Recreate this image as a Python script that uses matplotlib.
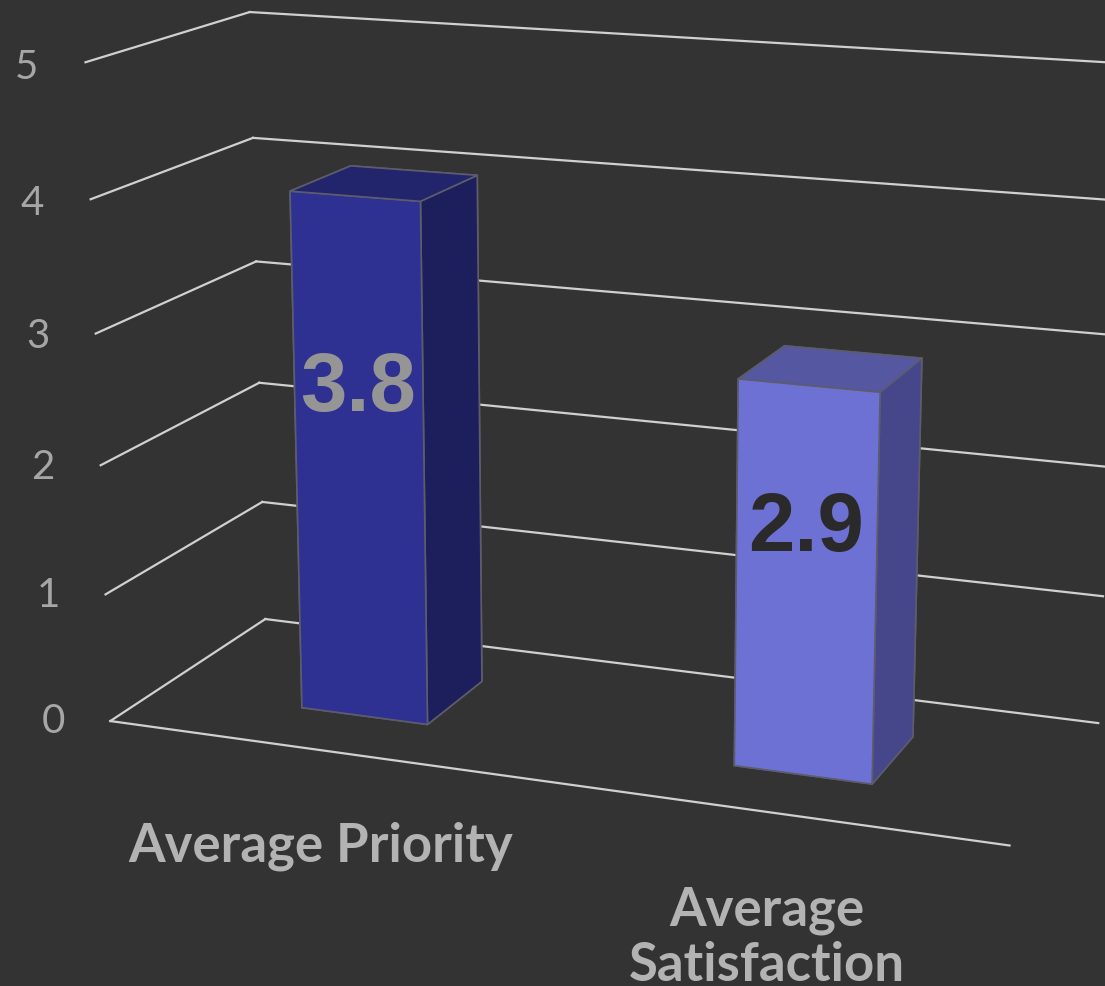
import matplotlib
matplotlib.use('Agg')
import matplotlib.pyplot as plt
import numpy as np

categories = ['Average Priority', 'Average\nSatisfaction']
bar_heights = [4.0, 2.9]
value_labels = ['3.8', '2.9']
z_ticks = [0, 1, 2, 3, 4, 5]
front_colors = ['#2e3192', '#6e71d4']
side_colors = ['#1d1e5c', '#46478a']
top_colors = ['#22246c', '#5557a0']
value_label_colors = ['#959595', '#2a2a2a']

BG = '#333333'
GRID = '#d0d0d0'
TICK = '#a6a6a6'
CAT = '#b3b3b3'

fig = plt.figure(figsize=(11.05, 9.87), dpi=100, facecolor=BG)
ax = fig.add_axes([-0.068, -0.023, 1.2, 1.2], projection='3d', computed_zorder=False)
ax.set_facecolor(BG)
ax.set_proj_type('persp', focal_length=0.55)
ax.view_init(elev=14.7, azim=-69)
ax.set_xlim(0, 2)
ax.set_ylim(0, 1)
ax.set_zlim(0, 5)
ax.set_box_aspect((2.6, 0.98, 1.87), zoom=1.0)
ax.set_axis_off()

x0, x1 = ax.get_xlim()
y0, y1 = ax.get_ylim()
for z in z_ticks:
    ax.plot([x0, x0], [y0, y1], [z, z], color=GRID, lw=1.6, zorder=1)
    ax.plot([x0, x1], [y1, y1], [z, z], color=GRID, lw=1.6, zorder=1)
    ax.text(x0 - 0.14, y0, z - 0.06, str(z), ha='center', va='center', fontsize=29,
            color=TICK, family='Lato', zorder=3)
ax.plot([x0, x1], [y0, y0], [0, 0], color=GRID, lw=1.6, zorder=1)

n = len(bar_heights)
xs = np.arange(n) + 0.5
bw, bd, by = 0.3, 0.4, 0.3
colors = []
for i in range(n):
    colors += [front_colors[i], top_colors[i], front_colors[i],
               front_colors[i], front_colors[i], side_colors[i]]
ax.bar3d(xs - bw / 2, np.full(n, by), np.zeros(n), bw, bd, bar_heights,
         color=colors, shade=False, edgecolor='#5c5c6c', linewidth=1.2, zorder=2)

for i, h in enumerate(bar_heights):
    ax.text(xs[i], by, h * 0.64, value_labels[i], ha='center', va='center', fontsize=60,
            fontweight='bold', family='Liberation Sans', color=value_label_colors[i], zorder=5)
    ax.text(xs[i], y0, -0.55, categories[i], ha='center', va='top', fontsize=38,
            fontweight='bold', family='Lato', color=CAT, linespacing=1.14, zorder=5)

fig.savefig('out.png', dpi=100, facecolor=BG)
